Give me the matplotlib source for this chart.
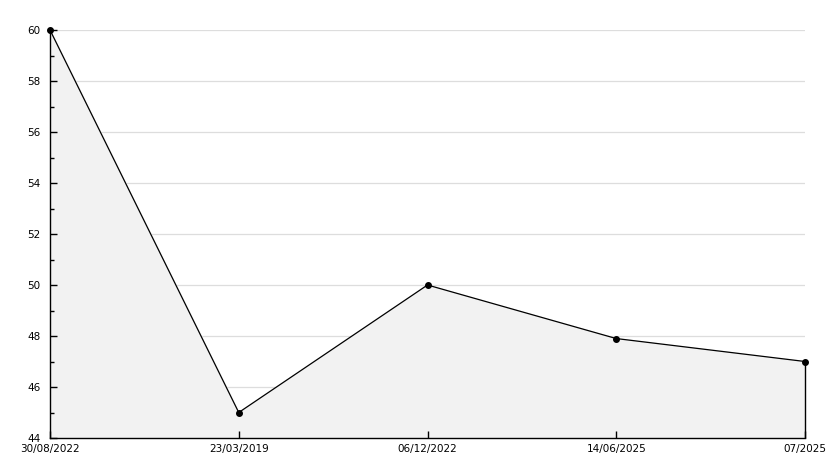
import matplotlib.pyplot as plt
from matplotlib.ticker import MultipleLocator

dates = ["30/08/2022", "23/03/2019", "06/12/2022", "14/06/2025", "07/2025"]
values = [60, 45, 50, 47.9, 47]
y_min, y_max = 44, 60

fig = plt.figure(figsize=(8.34, 4.68), dpi=100)
ax = fig.add_axes([50 / 834, 30 / 468, 755 / 834, 408 / 468])

x = list(range(len(dates)))
ax.fill_between(x, values, y_min, color="#f2f2f2", zorder=1)
ax.plot(x, values, color="black", linewidth=0.9, marker="o", markersize=4,
        zorder=4, clip_on=False)
# closing edge on the right side of the area
ax.vlines(x[-1], y_min, values[-1], color="black", linewidth=1.0, zorder=3,
          clip_on=False)

ax.set_xlim(x[0], x[-1])
ax.set_ylim(y_min, y_max)
ax.set_xticks(x)
ax.set_xticklabels(dates)
ax.yaxis.set_major_locator(MultipleLocator(2))
ax.yaxis.set_minor_locator(MultipleLocator(1))

# grid sits behind the filled area, ticks stay on top of it
ax.set_axisbelow(False)
for yv in ax.get_yticks():
    if y_min < yv <= y_max:
        ax.axhline(yv, color="#dddddd", linewidth=0.9, zorder=0.5)

for side in ("top", "right"):
    ax.spines[side].set_visible(False)
for side in ("left", "bottom"):
    ax.spines[side].set_linewidth(1.0)
    ax.spines[side].set_zorder(5)

ax.tick_params(axis="both", which="major", direction="in", length=5, width=1.0,
               labelsize=7.5, pad=4, color="black")
ax.tick_params(axis="y", which="minor", direction="in", length=3, width=1.0)
ax.tick_params(axis="y", pad=7)

fig.savefig("out.png", dpi=100, facecolor="white")
